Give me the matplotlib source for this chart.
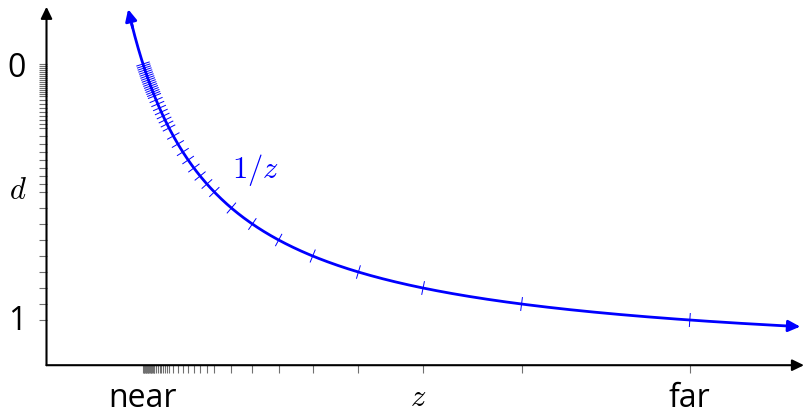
import numpy as np
import matplotlib
matplotlib.use("Agg")
import matplotlib.pyplot as plt
from matplotlib.collections import LineCollection

plt.rcParams['font.family'] = ['Open Sans', 'DejaVu Sans']
plt.rcParams['mathtext.fontset'] = 'cm'

# near / far planes, in z units
near = 1.0
far = 20.0 / 3.0

# depth values stored with a tiny float: 3 mantissa bits, exponents -1 .. -4, plus denormals
mantissa = np.array([0, 1, 2, 3, 4, 5, 6, 7]) / 8.0
exponents = np.array([-1, -2, -3, -4])
normals = (np.outer(2.0 ** exponents, 1 + mantissa)).ravel()
denormals = mantissa * 2.0 ** exponents[-1]
d_values = np.concatenate([[1.0], normals, denormals])

# curve range (arrow tips)
z_start = 0.846
z_end = 7.81

blue = '#0000ff'
tick_grey = '#707070'

fig = plt.figure(figsize=(8.04, 4.14), dpi=100)
ax = fig.add_axes([0, 0, 1, 1])
ax.set_xlim(-0.4819, 7.85)
ax.set_ylim(-0.1587, 1.2158)
ax.set_facecolor('white')

# z for each stored depth: 1/z = 1/n - d (1/n - 1/f)
inv_z = 1.0 / near - d_values * (1.0 / near - 1.0 / far)
z_ticks = 1.0 / inv_z

# axes as spines at the origin, ticks only
for s in ['top', 'right']:
    ax.spines[s].set_visible(False)
ax.spines['left'].set_position(('data', 0))
ax.spines['bottom'].set_position(('data', 0))
ax.spines['left'].set_color('none')
ax.spines['bottom'].set_color('none')
ax.set_xticks(z_ticks)
ax.set_yticks(inv_z)
ax.set_xticklabels([])
ax.set_yticklabels([])
ax.tick_params(direction='out', length=5.8, width=0.8, color=tick_grey)

arrow = '-|>,head_length=7,head_width=3.4'

# axis arrows
ax.annotate('', xy=(0, 1.19), xytext=(0, 0),
            arrowprops=dict(arrowstyle=arrow, mutation_scale=1,
                            color='black', lw=1.5, shrinkA=0, shrinkB=0))
ax.annotate('', xy=(7.85, 0), xytext=(0, 0),
            arrowprops=dict(arrowstyle=arrow, mutation_scale=1,
                            color='black', lw=1.5, shrinkA=0, shrinkB=0))

# the 1/z curve
z = np.linspace(z_start, z_end, 600)
ax.plot(z[3:-3], 1 / z[3:-3], color=blue, lw=2.0, solid_capstyle='butt')
ax.annotate('', xy=(z[0], 1 / z[0]), xytext=(z[4], 1 / z[4]),
            arrowprops=dict(arrowstyle=arrow, mutation_scale=1,
                            color=blue, lw=2.0, shrinkA=0, shrinkB=0))
ax.annotate('', xy=(z[-1], 1 / z[-1]), xytext=(z[-5], 1 / z[-5]),
            arrowprops=dict(arrowstyle=arrow, mutation_scale=1,
                            color=blue, lw=2.0, shrinkA=0, shrinkB=0))

# short marks across the curve at each stored depth
pts = ax.transData.transform(np.column_stack([z_ticks, inv_z]))
ahead = ax.transData.transform(np.column_stack([z_ticks * 1.001, 1 / (z_ticks * 1.001)]))
tang = ahead - pts
tang /= np.linalg.norm(tang, axis=1)[:, None]
normal = np.column_stack([-tang[:, 1], tang[:, 0]])
half = 7.0
inv = ax.transData.inverted()
p0 = inv.transform(pts - half * normal)
p1 = inv.transform(pts + half * normal)
ax.add_collection(LineCollection(np.stack([p0, p1], axis=1), colors=blue, linewidths=0.7))

# labels
ax.text(-0.311, 0.99, '0', fontsize=23, ha='center', va='center')
ax.text(-0.30, 0.15, '1', fontsize=23, ha='center', va='center')
ax.text(-0.30, 0.582, '$d$', fontsize=22, ha='center', va='center')
ax.text(1.0, -0.1056, 'near', fontsize=23, ha='center', va='center')
ax.text(far, -0.1056, 'far', fontsize=23, ha='center', va='center')
ax.text(3.85, -0.105, '$z$', fontsize=22, ha='center', va='center')
ax.text(2.16, 0.651, '$1/z$', fontsize=22, ha='center', va='center', color=blue)

fig.savefig('out.png', dpi=100)
